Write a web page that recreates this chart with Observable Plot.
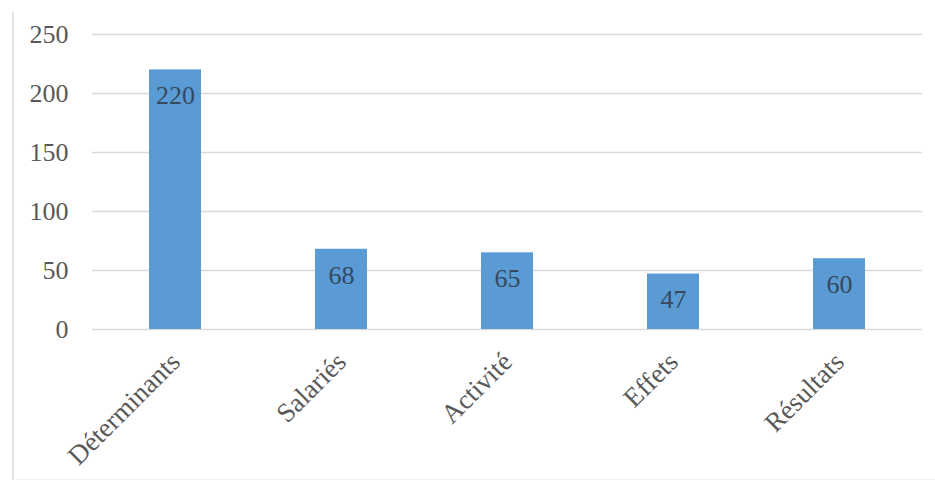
<!DOCTYPE html>
<html>
<head>
<meta charset="utf-8">
<script src="https://cdn.jsdelivr.net/npm/d3@7"></script>
<script src="https://cdn.jsdelivr.net/npm/@observablehq/plot@0.6"></script>
<style>
  html, body { margin: 0; padding: 0; background: #fff; }
  #wrap { position: relative; width: 935px; height: 490px; overflow: hidden; }
  #frame { position: absolute; left: 12px; top: 12px; width: 940px; height: 468px; border-left: 2px solid #e3e3e3; border-bottom: 1px solid #f0f0f0; box-sizing: border-box; }
  #chart { position: absolute; left: 0; top: 0; }
</style>
</head>
<body>
<div id="wrap"><div id="frame"></div><div id="chart"></div></div>
<script>
const categories = ["Déterminants", "Salariés", "Activité", "Effets", "Résultats"];
const values = [220, 68, 65, 47, 60];
const yTicks = [0, 50, 100, 150, 200, 250];

const data = categories.map((c, i) => ({category: c, value: values[i]}));

const chart = Plot.plot({
  width: 935,
  height: 490,
  marginLeft: 92,
  marginRight: 13,
  marginTop: 34,
  marginBottom: 161,
  style: {fontFamily: "'Liberation Serif', 'Times New Roman', serif", fontSize: "26px", color: "#595959", background: "transparent"},
  x: {domain: categories, paddingInner: 0.685, paddingOuter: 0.3425, label: null},
  y: {domain: [0, 250], label: null},
  marks: [
    Plot.ruleY(yTicks, {stroke: "#d9d9d9", strokeWidth: 1.5}),
    Plot.axisY({ticks: yTicks, tickSize: 0, tickPadding: 24, fontSize: 26, fill: "#595959", label: null}),
    Plot.barY(data, {x: "category", y: "value", fill: "#5b9bd5"}),
    Plot.text(data, {x: "category", y: "value", text: d => String(d.value), dy: 26, fontSize: 26, fill: "#34495e"}),
    Plot.axisX({tickSize: 0, tickRotate: -45, tickPadding: 28, fontSize: 27, fill: "#595959", label: null})
  ]
});
document.getElementById("chart").appendChild(chart);
</script>
</body>
</html>
